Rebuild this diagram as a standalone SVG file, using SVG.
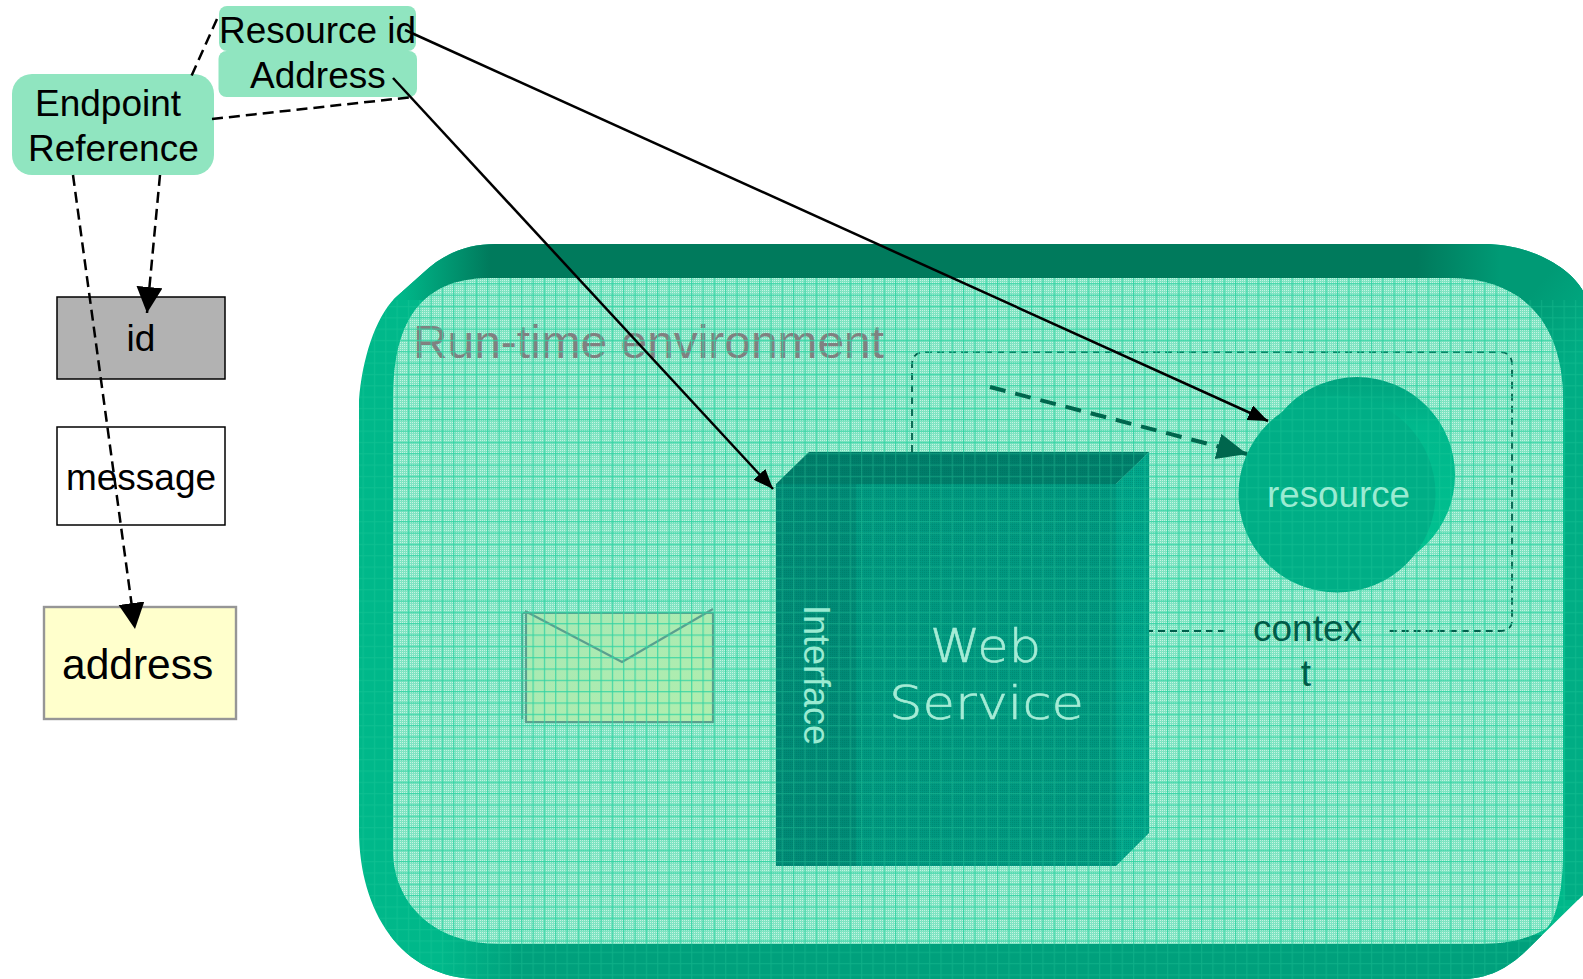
<svg xmlns="http://www.w3.org/2000/svg" width="1583" height="979" viewBox="0 0 1583 979">
<style>
text{font-family:"Liberation Sans",Arial,sans-serif;font-size:37px;fill:#000}
.lite{fill:#9aebd2}
.thin{font-family:"DejaVu Sans",sans-serif;font-weight:200;font-size:47px;fill:#a5ecd6;stroke:#a5ecd6;stroke-width:.6}
.dk{fill:#005c48}
.box{fill:#90e5c0}
.dash{fill:none;stroke:#000;stroke-width:2.5;stroke-dasharray:11 6}
.solid{fill:none;stroke:#000;stroke-width:2.5}
.env{stroke:#5a9f8e;stroke-width:2.2}
</style>
<defs>
<pattern id="whitedots" width="2" height="2" patternUnits="userSpaceOnUse"><rect width="1" height="1" fill="#fff" fill-opacity=".55"/></pattern>
<pattern id="darkdots" width="2" height="2" patternUnits="userSpaceOnUse"><rect width="1" height="1" fill="#006a58" fill-opacity=".3"/></pattern>
<pattern id="grid" width="11.33" height="11.33" patternUnits="userSpaceOnUse"><rect width="1.2" height="11.33" fill="#2fd3a2" fill-opacity=".85"/><rect width="11.33" height="1.2" fill="#2fd3a2" fill-opacity=".85"/></pattern>
<linearGradient id="topband" gradientUnits="userSpaceOnUse" x1="400" y1="0" x2="1583" y2="0"><stop offset="0" stop-color="#00b88a"/><stop offset=".076" stop-color="#007a5c"/><stop offset=".86" stop-color="#007a5c"/><stop offset=".93" stop-color="#009a75"/><stop offset="1" stop-color="#009a75"/></linearGradient>
<linearGradient id="corner" gradientUnits="userSpaceOnUse" x1="1510" y1="290" x2="1583" y2="350"><stop offset="0" stop-color="#009a75" stop-opacity="0"/><stop offset=".2" stop-color="#009a75"/><stop offset="1" stop-color="#00ad84"/></linearGradient>
<linearGradient id="botband" gradientUnits="userSpaceOnUse" x1="440" y1="0" x2="520" y2="0"><stop offset="0" stop-color="#00b88a"/><stop offset="1" stop-color="#00a07c"/></linearGradient>
<linearGradient id="backc" x1="0" y1="0" x2="0" y2="1"><stop offset="0" stop-color="#00a27e"/><stop offset=".25" stop-color="#00b88c"/><stop offset="1" stop-color="#00c290"/></linearGradient>
<linearGradient id="envf" x1="0" y1="0" x2="1" y2="1"><stop offset="0" stop-color="#a8e8b4"/><stop offset="1" stop-color="#b0eeae"/></linearGradient>
<clipPath id="outerclip"><path d="M359 400C362 360 375 318 395 298L423 273C445 252 470 244 495 244L1483 244C1540 244 1575 275 1583 291L1583 895L1530 947C1510 967 1490 979 1460 979L480 979C400 979 359 910 359 830Z"/></clipPath>
<clipPath id="innerclip"><path d="M393 400C393 345 405 278 490 278L1450 278C1520 278 1563 320 1563 400L1563 850C1563 885 1558 915 1547 928C1530 938 1510 944 1480 944L500 944C430 944 393 900 393 850Z"/></clipPath>
<clipPath id="cubeclip"><path d="M776 484L809 452L1149 452L1149 833L1116 866L776 866Z"/></clipPath>
<clipPath id="resclip"><circle cx="1357" cy="475" r="98"/><circle cx="1337" cy="494" r="98.500"/></clipPath>
<marker id="ah" markerUnits="userSpaceOnUse" markerWidth="30" markerHeight="30" refX="26" refY="13" orient="auto"><path d="M0 0L26 13L0 26Z" fill="#000"/></marker>
<marker id="ahs" markerUnits="userSpaceOnUse" markerWidth="24" markerHeight="20" refX="20" refY="8" orient="auto"><path d="M0 0L20 8L0 16Z" fill="#000"/></marker>
<marker id="aht" markerUnits="userSpaceOnUse" markerWidth="34" markerHeight="30" refX="30" refY="13" orient="auto"><path d="M0 0L30 13L0 26Z" fill="#00664d"/></marker>
</defs>

<g id="runtime-environment">
<g clip-path="url(#outerclip)">
<rect x="350" y="240" width="1240" height="745" fill="#00b88a"/>
<rect x="350" y="240" width="1240" height="60" fill="url(#topband)"/>
<rect x="1470" y="240" width="113" height="160" fill="url(#corner)"/>
<rect x="1565" y="400" width="20" height="500" fill="#00ad84"/>
<rect x="350" y="935" width="1240" height="50" fill="url(#botband)"/>
<rect x="350" y="300" width="1240" height="685" fill="url(#grid)" opacity=".3"/>
</g>
<g clip-path="url(#innerclip)">
<rect x="390" y="275" width="1180" height="675" fill="#7fe4c2"/>
<rect x="390" y="275" width="1180" height="675" fill="url(#whitedots)"/>
</g>
<text x="413" y="358" textLength="471" lengthAdjust="spacingAndGlyphs" style="font-size:47px;fill:#808080">Run-time environment</text>
</g>

<g id="context">
<path d="M912 452V365Q912 352 925 352H1500Q1512 352 1512 365V620Q1512 631 1500 631H1386M1225 631H1149" fill="none" stroke="#00604c" stroke-width="1.8" stroke-dasharray="7 5"/>
</g>

<g id="message-envelope">
<path d="M523 613H713V722H526V613" fill="url(#envf)" class="env"/>
<path d="M522 613V719" fill="none" class="env"/>
<path d="M525 611L622 662L713 609" fill="none" class="env"/>
</g>

<rect id="texture-grid" x="390" y="275" width="1180" height="675" fill="url(#grid)" clip-path="url(#innerclip)"/>

<g id="web-service">
<path d="M776 484L809 452L1149 452L1116 484Z" fill="#007d6a"/>
<path d="M1116 484L1149 452V833L1116 866Z" fill="#00a58a"/>
<rect x="776" y="484" width="340" height="382" fill="#009880"/>
<rect x="776" y="484" width="80" height="382" fill="#008a76"/>
<rect x="770" y="445" width="385" height="425" fill="url(#darkdots)" clip-path="url(#cubeclip)"/>
<rect x="770" y="445" width="385" height="425" fill="url(#grid)" opacity=".4" clip-path="url(#cubeclip)"/>
</g>

<g id="resource">
<circle cx="1357" cy="475" r="98" fill="url(#backc)"/>
<circle cx="1337" cy="494" r="98.500" fill="#00ae86"/>
<rect x="1230" y="370" width="230" height="230" fill="url(#grid)" opacity=".3" clip-path="url(#resclip)"/>
</g>

<g id="labels-inside">
<text x="1267" y="507" class="lite" textLength="143" lengthAdjust="spacingAndGlyphs">resource</text>
<text x="1253" y="641" class="dk">contex</text>
<text x="1306" y="686" class="dk" text-anchor="middle">t</text>
<text transform="translate(803.500 605) rotate(90)" class="lite" textLength="140" lengthAdjust="spacingAndGlyphs">Interface</text>
<text x="930" y="662" class="thin" textLength="111" lengthAdjust="spacingAndGlyphs">Web</text>
<text x="889" y="719" class="thin" textLength="195" lengthAdjust="spacingAndGlyphs">Service</text>
</g>

<g id="resource-id"><rect x="219" y="6" width="197" height="45" rx="8" class="box"/><text x="219" y="43" textLength="197" lengthAdjust="spacingAndGlyphs">Resource id</text></g>
<g id="address-field"><rect x="218.500" y="51" width="198.500" height="46" rx="8" class="box"/><text x="250" y="88">Address</text></g>
<g id="endpoint-reference"><rect x="12" y="74" width="202" height="101" rx="20" class="box"/><text x="35" y="116">Endpoint</text><text x="28" y="161">Reference</text></g>
<g id="id-box"><rect x="57" y="297" width="168" height="82" fill="#b2b2b2" stroke="#000" stroke-width="1.5"/><text x="141" y="351" text-anchor="middle">id</text></g>
<g id="message-box"><rect x="57" y="427" width="168" height="98" fill="#fff" stroke="#000" stroke-width="1.5"/><text x="141" y="490" text-anchor="middle">message</text></g>
<g id="address-box"><rect x="44" y="607" width="192" height="112" fill="#ffffcc" stroke="#969696" stroke-width="2.4"/><text x="62" y="679" style="font-size:42.500px">address</text></g>

<g id="connectors">
<path class="dash" d="M217 19L191 77"/>
<path class="dash" d="M212 119L413 97"/>
<path class="dash" d="M160 175L147 313" marker-end="url(#ah)"/>
<path class="dash" d="M73 175L135 629" marker-end="url(#ah)"/>
<path class="solid" d="M405 30L1268 421" marker-end="url(#ahs)"/>
<path class="solid" d="M393 78L773 489" marker-end="url(#ahs)"/>
<path d="M990 387L1247 454" fill="none" stroke="#00664d" stroke-width="4" stroke-dasharray="16 10" marker-end="url(#aht)"/>
</g>
</svg>
